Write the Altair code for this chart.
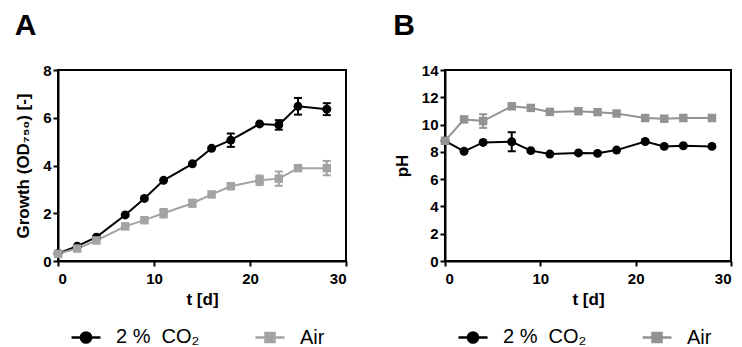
import altair as alt
import pandas as pd

# ---- data ----
t = [0, 2, 4, 7, 9, 11, 14, 16, 18, 21, 23, 25, 28]
series_names = ["2 %\u00a0\u00a0CO₂", "Air"]

growth_co2 = [0.32, 0.62, 1.0, 1.93, 2.62, 3.38, 4.07, 4.72, 5.06, 5.74, 5.70, 6.48, 6.36]
growth_co2_err = [0, 0, 0, 0, 0, 0, 0, 0, 0.28, 0, 0.2, 0.35, 0.25]
growth_air = [0.30, 0.52, 0.86, 1.45, 1.71, 2.0, 2.42, 2.79, 3.13, 3.38, 3.45, 3.89, 3.89]
growth_air_err = [0, 0, 0, 0, 0, 0.18, 0.15, 0, 0, 0.2, 0.3, 0, 0.3]

ph_co2 = [8.81, 8.04, 8.69, 8.74, 8.09, 7.84, 7.92, 7.89, 8.13, 8.76, 8.40, 8.45, 8.40]
ph_co2_err = [0, 0, 0, 0.7, 0, 0, 0, 0, 0, 0, 0, 0, 0]
ph_air = [8.81, 10.38, 10.26, 11.34, 11.22, 10.93, 10.98, 10.91, 10.81, 10.48, 10.43, 10.48, 10.48]
ph_air_err = [0, 0, 0.5, 0, 0, 0, 0, 0, 0, 0, 0, 0, 0]

y_ticks_a = [0, 2, 4, 6, 8]
y_ticks_b = [0, 2, 4, 6, 8, 10, 12, 14]
x_ticks = [0, 10, 20, 30]

FONT = "Liberation Sans"
LEGEND_CIRCLE = "M-1,0H1M0.35,0A0.35,0.35,0,1,1,-0.35,0A0.35,0.35,0,1,1,0.35,0Z"
LEGEND_SQUARE = "M-1,0H1M-0.31,-0.31H0.31V0.31H-0.31Z"


def make_df(v1, e1, v2, e2):
    rows = []
    for name, vals, errs in [(series_names[0], v1, e1), (series_names[1], v2, e2)]:
        for ti, v, e in zip(t, vals, errs):
            rows.append({"t": ti, "value": v, "err": e, "lo": v - e, "hi": v + e, "series": name})
    return pd.DataFrame(rows)


def panel(df, letter, ytitle, ydomain, yticks, grey, width):
    color_range = ["black", grey]
    color = alt.Color("series:N", scale=alt.Scale(domain=series_names, range=color_range), legend=None)
    xaxis = alt.Axis(title="t [d]", values=x_ticks, format="d")
    yaxis = alt.Axis(title=ytitle, values=yticks, format="d", labelOverlap=False)
    x = alt.X("t:Q", scale=alt.Scale(domain=[0, 30], nice=False), axis=xaxis)
    yscale = alt.Scale(domain=ydomain, nice=False)
    y = alt.Y("value:Q", scale=yscale, axis=yaxis)

    base = alt.Chart(df)
    line = base.mark_line(strokeWidth=2).encode(x=x, y=y, color=color)
    errdf = base.transform_filter("datum.err > 0")
    rule = errdf.mark_rule(strokeWidth=2).encode(x=x, y=alt.Y("lo:Q", scale=yscale, axis=yaxis), y2="hi:Q", color=color)
    cap_lo = errdf.mark_tick(orient="horizontal", size=8, thickness=2, opacity=1).encode(
        x=x, y=alt.Y("lo:Q", scale=yscale, axis=yaxis), color=color)
    cap_hi = errdf.mark_tick(orient="horizontal", size=8, thickness=2, opacity=1).encode(
        x=x, y=alt.Y("hi:Q", scale=yscale, axis=yaxis), color=color)
    circles = base.transform_filter(alt.datum.series == series_names[0]).mark_circle(size=80, opacity=1).encode(x=x, y=y, color=color)
    squares = base.transform_filter(alt.datum.series == series_names[1]).mark_square(size=72, opacity=1).encode(x=x, y=y, color=color)

    legend = alt.Legend(
        title=None, orient="none", legendX=12, legendY=251, direction="horizontal",
        labelFont=FONT, labelFontSize=20, labelColor="black", columnPadding=50,
        labelOffset=14, symbolSize=841, symbolStrokeWidth=2.5, symbolOpacity=1,
    )
    sc_fill = alt.Scale(domain=series_names, range=color_range)
    sc_shape = alt.Scale(domain=series_names, range=[LEGEND_CIRCLE, LEGEND_SQUARE])
    # legend-carrying layer (tiny marks hidden underneath the real markers)
    leg_layer = base.mark_point(filled=False, size=10, strokeWidth=1, opacity=1).encode(
        x=x, y=y,
        fill=alt.Fill("series:N", scale=sc_fill, legend=legend),
        stroke=alt.Stroke("series:N", scale=sc_fill, legend=legend),
        shape=alt.Shape("series:N", scale=sc_shape, legend=legend),
    )

    return alt.layer(leg_layer, line, rule, cap_lo, cap_hi, circles, squares).properties(
        width=width, height=191,
        title=alt.TitleParams(letter, anchor="start", frame="bounds", fontSize=30, fontWeight="bold",
                              font=FONT, offset=22, color="black"),
    )


dfa = make_df(growth_co2, growth_co2_err, growth_air, growth_air_err)
dfb = make_df(ph_co2, ph_co2_err, ph_air, ph_air_err)

chart_a = panel(dfa, "A", "Growth (OD₇₅₀) [-]", [0, 8], y_ticks_a, "#a3a3a3", 288)
chart_b = panel(dfb, "B", "pH", [0, 14], y_ticks_b, "#939393", 286)

chart = alt.hconcat(chart_a, chart_b, spacing=44).resolve_scale(
    color="independent", fill="independent", stroke="independent", shape="independent"
).properties(
    padding={"left": 5, "top": 2, "right": 0, "bottom": 0}
).configure(
    font=FONT, background="white",
).configure_view(
    stroke="black", strokeWidth=2,
).configure_axis(
    grid=False, domainColor="black", domainWidth=2, tickColor="black", tickWidth=2, tickSize=5,
    labelFont=FONT, labelFontSize=15, labelFontWeight="bold", labelColor="black", labelPadding=3,
    titleFont=FONT, titleFontSize=17, titleFontWeight="bold", titleColor="black",
).configure_axisX(titlePadding=5, labelPadding=5).configure_axisY(titlePadding=10, labelPadding=2)

chart.save("out.html", embed_options={"renderer": "svg", "actions": False})
